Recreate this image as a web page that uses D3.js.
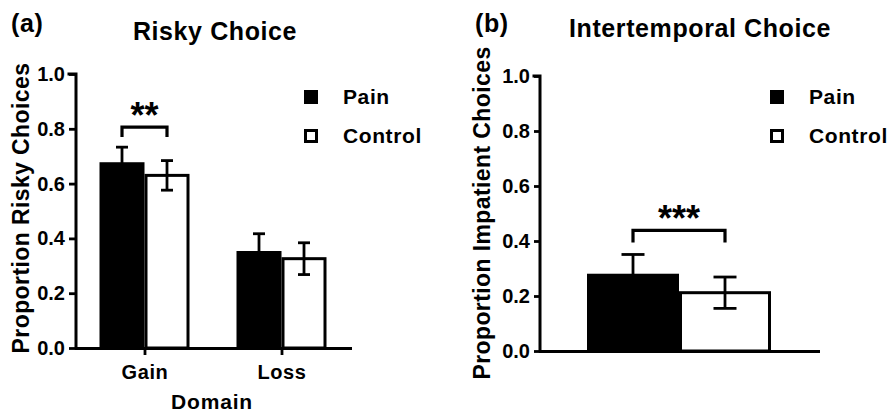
<!DOCTYPE html>
<html>
<head>
<meta charset="utf-8">
<script src="https://cdn.jsdelivr.net/npm/d3@7"></script>
<style>
  body { margin: 0; background: #fff; }
  svg { display: block; font-family: "Liberation Sans", Arial, sans-serif; font-weight: bold; }
</style>
</head>
<body>
<svg id="chart" width="893" height="413"></svg>
<script>
// groups shown in both panels
const groups = ["Pain", "Control"];
const yTicks = [0, 0.2, 0.4, 0.6, 0.8, 1.0];

// (a) risky choice
const riskyCategories = ["Gain", "Loss"];
const riskyPain = [0.678, 0.354];
const riskyPainErr = [0.055, 0.063];
const riskyControl = [0.630, 0.326];
const riskyControlErr = [0.054, 0.058];

// (b) intertemporal choice
const interCategories = ["Intertemporal"];
const interPain = [0.281];
const interPainErr = [0.07];
const interControl = [0.212];
const interControlErr = [0.057];

// significance brackets: [category, bracket top, leg bottom, label]
const riskySig = [["Gain", 0.806, 0.77, "**"]];
const interSig = [["Intertemporal", 0.439, 0.395, "***"]];

const svg = d3.select("#chart");

function drawPanel(p) {
  const g = svg.append("g");

  const y = d3.scaleLinear().domain([0, 1]).range([p.bottom, p.top]);
  const x = d3.scalePoint().domain(p.categories).range([p.left, p.right]).padding(p.pad);
  const inner = d3.scaleBand().domain(groups).range([-p.bw, p.bw]);

  const rows = p.categories.map((c, i) => ({
    cat: c,
    vals: [
      { grp: "Pain", v: p.pain[i], e: p.painErr[i] },
      { grp: "Control", v: p.control[i], e: p.controlErr[i] }
    ]
  }));

  // bars
  const bars = g.selectAll(".grp").data(rows).enter().append("g")
    .attr("transform", d => "translate(" + x(d.cat) + ",0)");

  bars.selectAll("rect").data(d => d.vals.slice().reverse()).enter().append("rect")
    .attr("x", d => d.grp === "Pain" ? inner(d.grp) : inner(d.grp) + 1.5)
    .attr("y", d => y(d.v))
    .attr("width", d => d.grp === "Pain" ? inner.bandwidth() : inner.bandwidth() - 3)
    .attr("height", d => y(0) - y(d.v))
    .attr("fill", d => d.grp === "Pain" ? "#000" : "#fff")
    .attr("stroke", "#000")
    .attr("stroke-width", d => d.grp === "Pain" ? 0 : 3);

  // error bars
  const eb = bars.selectAll(".err").data(d => d.vals).enter().append("g")
    .attr("stroke", "#000").attr("stroke-width", 2.8);
  const cx = d => inner(d.grp) + inner.bandwidth() / 2;
  eb.append("line")
    .attr("x1", cx).attr("x2", cx)
    .attr("y1", d => y(d.v - d.e)).attr("y2", d => y(d.v + d.e));
  [1, -1].forEach(s => {
    eb.append("line")
      .attr("x1", d => cx(d) - p.cap).attr("x2", d => cx(d) + p.cap)
      .attr("y1", d => y(d.v + s * d.e)).attr("y2", d => y(d.v + s * d.e));
  });

  // significance bracket
  p.sig.forEach(s => {
    const x0 = x(s[0]) + inner("Pain") + inner.bandwidth() / 2;
    const x1 = x(s[0]) + inner("Control") + inner.bandwidth() / 2;
    g.append("path")
      .attr("d", "M" + x0 + "," + y(s[2]) + "V" + y(s[1]) + "H" + x1 + "V" + y(s[2]))
      .attr("fill", "none").attr("stroke", "#000").attr("stroke-width", 3.2);
    g.append("text")
      .attr("x", (x0 + x1) / 2).attr("y", y(s[1]) + 1)
      .attr("text-anchor", "middle").attr("font-size", 36)
      .text(s[3]);
  });

  // y axis
  const ya = g.append("g").attr("transform", "translate(" + p.left + ",0)")
    .call(d3.axisLeft(y).tickValues(yTicks).tickFormat(d3.format(".1f")).tickSize(p.tick).tickPadding(4));
  // x axis
  const xa = g.append("g").attr("transform", "translate(0," + p.bottom + ")")
    .call(d3.axisBottom(x).tickSize(p.showX ? 7 : 0).tickPadding(10).tickSizeOuter(0));
  if (!p.showX) xa.selectAll(".tick").remove();

  [ya, xa].forEach(a => {
    a.select(".domain").attr("stroke-width", 3).attr("stroke-linecap", "square");
    a.selectAll(".tick line").attr("stroke-width", 2.8);
    a.selectAll("text").attr("font-size", 20).attr("fill", "#000")
      .style("font-family", "'Liberation Sans', Arial, sans-serif").style("font-weight", "bold");
  });
  ya.select(".domain").attr("d", "M0," + p.bottom + "V" + p.top + "H" + (-p.tick));
  xa.selectAll(".tick text").style("letter-spacing", "0.6px");

  // y label
  g.append("text")
    .attr("transform", "translate(" + p.ylabX + "," + p.ylabY + ") rotate(-90)")
    .attr("text-anchor", "middle").attr("font-size", 23).style("letter-spacing", "0.4px")
    .text(p.ylabel);

  // titles
  g.append("text").attr("x", p.tagX).attr("y", 32).attr("font-size", 25).style("letter-spacing", "0.6px").text(p.tag);
  g.append("text").attr("x", p.titleX).attr("y", p.titleY).attr("text-anchor", "middle")
    .attr("font-size", 25).style("letter-spacing", "0.6px").text(p.title);

  // legend
  const lg = g.selectAll(".lg").data(groups).enter().append("g")
    .attr("transform", (d, i) => "translate(" + p.legX + "," + (90 + i * 39) + ")");
  lg.append("rect")
    .attr("x", d => d === "Pain" ? 0 : 1.5).attr("y", d => d === "Pain" ? 0 : 1.5)
    .attr("width", d => d === "Pain" ? 14 : 11).attr("height", d => d === "Pain" ? 14 : 11)
    .attr("fill", d => d === "Pain" ? "#000" : "#fff")
    .attr("stroke", "#000").attr("stroke-width", d => d === "Pain" ? 0 : 3);
  lg.append("text").attr("x", 39).attr("y", 14).attr("font-size", 21)
    .style("letter-spacing", "0.6px").text(d => d);

  if (p.xlabel) {
    g.append("text").attr("x", p.xlabX).attr("y", 409).attr("text-anchor", "middle")
      .attr("font-size", 21).style("letter-spacing", "0.8px").text(p.xlabel);
  }
}

drawPanel({
  categories: riskyCategories, pain: riskyPain, painErr: riskyPainErr,
  control: riskyControl, controlErr: riskyControlErr, sig: riskySig,
  left: 76, right: 350, pad: 0.5, top: 74, bottom: 348, bw: 45, cap: 6, tick: 7,
  showX: true, ylabel: "Proportion Risky Choices", ylabX: 29, ylabY: 208,
  tag: "(a)", tagX: 11, title: "Risky Choice", titleX: 215, titleY: 40,
  legX: 304, xlabel: "Domain", xlabX: 212
});

drawPanel({
  categories: interCategories, pain: interPain, painErr: interPainErr,
  control: interControl, controlErr: interControlErr, sig: interSig,
  left: 540, right: 818, pad: 0.5, top: 76, bottom: 351, bw: 92, cap: 11.5, tick: 6,
  showX: false, ylabel: "Proportion Impatient Choices", ylabX: 490, ylabY: 213,
  tag: "(b)", tagX: 475, title: "Intertemporal Choice", titleX: 700, titleY: 37,
  legX: 770, xlabel: null
});
</script>
</body>
</html>
